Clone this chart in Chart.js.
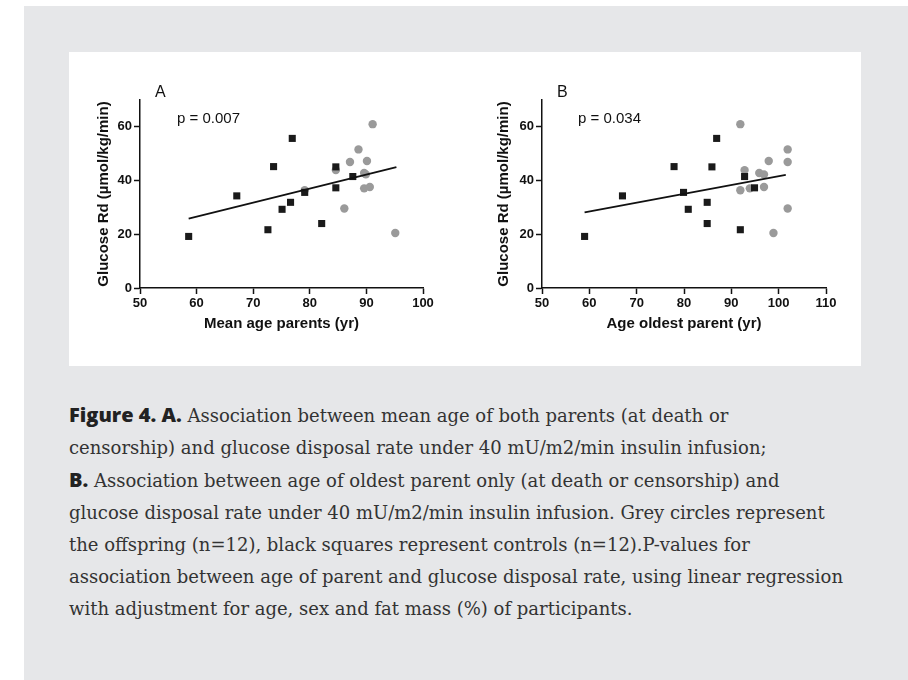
<!DOCTYPE html>
<html>
<head>
<meta charset="utf-8">
<script src="https://cdn.jsdelivr.net/npm/chart.js@4"></script>
<style>
  body { margin: 0; background: #fff; width: 908px; height: 680px; overflow: hidden; position: relative; }
  #bg { position: absolute; left: 24px; top: 6px; width: 884px; height: 674px; background: #e6e7e9; }
  #panel { position: absolute; left: 69px; top: 52px; width: 792px; height: 314px; background: #fff; }
  canvas { position: absolute; }
  .lbl { position: absolute; font-family: "Liberation Sans", Arial, sans-serif; font-size: 15px; line-height: 15px; color: #111; white-space: nowrap; }
  .big { font-size: 16px; }
  #caption { position: absolute; left: 69px; top: 399px; font-family: "DejaVu Serif", serif; font-size: 18px; line-height: 32px; color: #333; white-space: nowrap; }
  #caption b { font-family: "Open Sans", sans-serif; font-weight: 800; font-size: 20px; color: #222; }
</style>
</head>
<body>
<div id="bg"></div>
<div id="panel"></div>
<canvas id="chartA" width="360" height="280" style="left:80px;top:60px"></canvas>
<canvas id="chartB" width="370" height="280" style="left:480px;top:60px"></canvas>
<div class="lbl big" style="left:155px;top:84px">A</div>
<div class="lbl" style="left:177px;top:110px">p = 0.007</div>
<div class="lbl big" style="left:557px;top:84px">B</div>
<div class="lbl" style="left:578px;top:110px">p = 0.034</div>
<div id="caption">
<b>Figure 4. A.</b> Association between mean age of both parents (at death or<br>
censorship) and glucose disposal rate under 40 mU/m2/min insulin infusion;<br>
<b>B.</b> Association between age of oldest parent only (at death or censorship) and<br>
glucose disposal rate under 40 mU/m2/min insulin infusion. Grey circles represent<br>
the offspring (n=12), black squares represent controls (n=12).P-values for<br>
association between age of parent and glucose disposal rate, using linear regression<br>
with adjustment for age, sex and fat mass (%) of participants.
</div>
<script>
// controls (black squares)
const ctrlRd = [19.2, 34.3, 21.7, 45.2, 29.3, 31.9, 55.7, 35.6, 24.0, 45.1, 37.3, 41.5];
const ctrlMeanAge = [58.6, 67.1, 72.6, 73.6, 75.1, 76.6, 76.9, 79.1, 82.1, 84.6, 84.6, 87.6];
const ctrlOldestAge = [59.0, 67.0, 91.9, 77.9, 80.9, 84.9, 86.9, 79.9, 84.9, 85.9, 94.9, 92.8];

// offspring (grey circles)
const offRd = [61.0, 36.4, 43.9, 37.1, 42.8, 42.3, 37.6, 47.3, 20.5, 51.6, 46.9, 29.6];
const offMeanAge = [91.1, 79.1, 84.6, 89.6, 89.6, 89.9, 90.6, 90.1, 95.1, 88.6, 87.1, 86.1];
const offOldestAge = [91.9, 91.9, 92.8, 93.9, 95.9, 96.9, 96.9, 97.9, 98.9, 101.9, 101.9, 101.9];

// regression lines (end points)
const fitAgeA = [58.6, 95.3];
const fitRdA = [25.8, 45.0];
const fitAgeB = [59.0, 101.5];
const fitRdB = [28.2, 42.1];

const yTicks = [0, 20, 40, 60];
const xTicksA = [50, 60, 70, 80, 90, 100];
const xTicksB = [50, 60, 70, 80, 90, 100, 110];

const zip = (xs, ys) => xs.map((x, i) => ({ x, y: ys[i] }));
const tickFont = { family: 'Liberation Sans', size: 13, weight: 'bold' };
const titleFont = { family: 'Liberation Sans', size: 15, weight: 'bold' };

function makeChart(id, cfg) {
  new Chart(document.getElementById(id), {
    type: 'scatter',
    data: {
      datasets: [
        {
          type: 'line',
          data: zip(cfg.fitX, cfg.fitY),
          borderColor: '#111',
          borderWidth: 1.8,
          pointRadius: 0,
          fill: false
        },
        {
          data: zip(cfg.ctrlX, ctrlRd),
          pointStyle: 'rect',
          pointRadius: 5,
          backgroundColor: '#1a1a1a',
          borderWidth: 0
        },
        {
          data: zip(cfg.offX, offRd),
          pointStyle: 'circle',
          pointRadius: 4.2,
          backgroundColor: '#9a9a9a',
          borderWidth: 0
        }
      ]
    },
    options: {
      responsive: false,
      animation: false,
      events: [],
      layout: { padding: { top: 40, right: cfg.padRight, left: 0, bottom: 0 } },
      plugins: { legend: { display: false }, tooltip: { enabled: false } },
      scales: {
        x: {
          type: 'linear',
          min: cfg.xTicks[0],
          max: cfg.xTicks[cfg.xTicks.length - 1],
          afterBuildTicks: s => { s.ticks = cfg.xTicks.map(v => ({ value: v })); },
          afterFit: s => { s.height = 52; },
          grid: { display: true, drawOnChartArea: false, drawTicks: true, tickLength: 6, tickWidth: 1.5, tickColor: '#111' },
          border: { display: true, color: '#111', width: 1.5 },
          ticks: { color: '#111', font: tickFont, padding: 2, maxRotation: 0 },
          title: { display: true, text: cfg.xTitle, color: '#111', font: titleFont, padding: { top: 0, bottom: 7 } }
        },
        y: {
          min: 0,
          max: 70,
          afterBuildTicks: s => { s.ticks = yTicks.map(v => ({ value: v })); },
          afterFit: s => { s.width = cfg.yWidth; },
          grid: { display: true, drawOnChartArea: false, drawTicks: true, tickLength: 6, tickWidth: 1.5, tickColor: '#111' },
          border: { display: true, color: '#111', width: 1.5 },
          ticks: { color: '#111', font: tickFont, padding: 2 },
          title: { display: true, text: 'Glucose Rd (\u00b5mol/kg/min)', color: '#111', font: titleFont, padding: { top: 15, bottom: 0 } }
        }
      }
    }
  });
}

makeChart('chartA', {
  fitX: fitAgeA, fitY: fitRdA, ctrlX: ctrlMeanAge, offX: offMeanAge,
  xTicks: xTicksA, xTitle: 'Mean age parents (yr)', yWidth: 60, padRight: 17
});
makeChart('chartB', {
  fitX: fitAgeB, fitY: fitRdB, ctrlX: ctrlOldestAge, offX: offOldestAge,
  xTicks: xTicksB, xTitle: 'Age oldest parent (yr)', yWidth: 62, padRight: 24
});
</script>
</body>
</html>
